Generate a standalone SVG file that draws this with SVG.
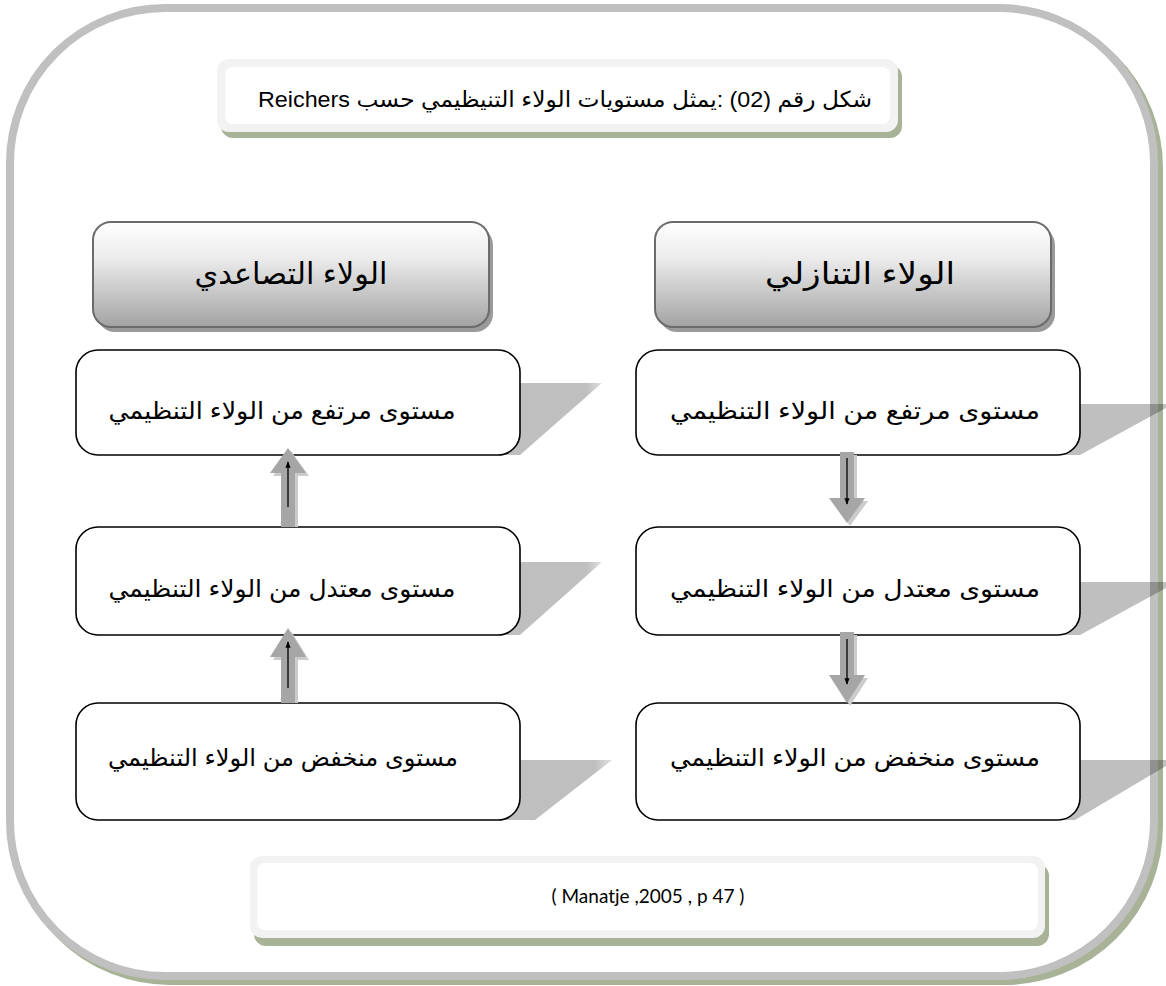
<svg xmlns="http://www.w3.org/2000/svg" width="1166" height="986" viewBox="0 0 1166 986">
<defs>
<linearGradient id="hdr" x1="0" y1="0" x2="0" y2="1">
<stop offset="0" stop-color="#ffffff"/>
<stop offset="0.35" stop-color="#ebebeb"/>
<stop offset="1" stop-color="#a3a3a3"/>
</linearGradient>
<linearGradient id="foldL" x1="0" y1="0" x2="1" y2="0">
<stop offset="0" stop-color="#000" stop-opacity="0.25"/>
<stop offset="0.85" stop-color="#000" stop-opacity="0.25"/>
<stop offset="1" stop-color="#000" stop-opacity="0.12"/>
</linearGradient>
<marker id="ah" viewBox="0 0 10 10" refX="9" refY="5" markerWidth="5" markerHeight="5" orient="auto">
<path d="M0,1 L10,5 L0,9 z" fill="#000"/>
</marker>
<style>
.ar{font-family:"Liberation Sans","DejaVu Sans",sans-serif;fill:#000;text-anchor:middle}
.lat{font-family:Lato,"Liberation Sans",sans-serif;fill:#000;text-anchor:middle}
.node{fill:#fff;stroke:#000;stroke-width:1.6}
.hdr{fill:url(#hdr);stroke:#6b6b6b;stroke-width:2}
.hsh{fill:#9a9a9a}
.fold{fill:url(#foldL)}
.foldr{fill:#000;fill-opacity:0.25}
.arw{fill:#a6a6a6}
.arwsh{fill:#cccccc}
.aline{stroke:#000;stroke-width:1.3;fill:none;marker-end:url(#ah)}
.cap-o{fill:#f2f2f2}
.cap-i{fill:#ffffff}
.cap-sh{fill:#a7b296}
</style>
</defs>
<rect width="1166" height="986" fill="#ffffff"/>
<g id="frame">
<rect x="15" y="13" width="1144" height="968" rx="155" fill="none" stroke="#a7b296" stroke-width="8"/>
<rect x="10" y="8" width="1144" height="968" rx="155" fill="#ffffff" stroke="#c0c0c0" stroke-width="8"/>
</g>
<g id="title">
<rect class="cap-sh" x="221" y="65" width="681" height="73" rx="12"/>
<rect class="cap-o" x="217" y="59" width="681" height="73" rx="12"/>
<rect class="cap-i" x="225" y="67" width="665" height="57" rx="8"/>
<text class="ar" x="565" y="107" font-size="22" textLength="614" lengthAdjust="spacingAndGlyphs" direction="rtl" unicode-bidi="embed">شكل رقم (02) :يمثل مستويات الولاء التنيظيمي حسب Reichers</text>
</g>
<g id="hdr-left">
<rect class="hsh" x="97" y="227" width="396" height="105" rx="18"/>
<rect class="hdr" x="93" y="222" width="396" height="105" rx="18"/>
<text class="ar" x="291" y="284" font-size="30" textLength="193" lengthAdjust="spacingAndGlyphs" direction="rtl">الولاء التصاعدي</text>
</g>
<g id="hdr-right">
<rect class="hsh" x="659" y="227" width="396" height="105" rx="18"/>
<rect class="hdr" x="655" y="222" width="396" height="105" rx="18"/>
<text class="ar" x="860" y="284" font-size="30" textLength="190" lengthAdjust="spacingAndGlyphs" direction="rtl">الولاء التنازلي</text>
</g>
<g id="folds">
<polygon class="fold" points="500,383 602,383 520,455 500,455"/>
<polygon class="fold" points="500,562 602,562 520,635 500,635"/>
<polygon class="fold" points="500,760 612,760 535,820 500,820"/>
<polygon class="foldr" points="1060,404 1166,404 1166,408 1080,455 1060,455"/>
<polygon class="foldr" points="1060,582 1166,582 1166,588 1080,635 1060,635"/>
<polygon class="foldr" points="1060,760 1166,760 1166,766 1075,820 1060,820"/>
</g>
<g id="n-left-high">
<rect class="node" x="76" y="350" width="444" height="105" rx="22"/>
<text class="ar" x="282" y="419" font-size="24" textLength="347" lengthAdjust="spacingAndGlyphs" direction="rtl">مستوى مرتفع من الولاء التنظيمي</text>
</g>
<g id="n-left-mid">
<rect class="node" x="76" y="527" width="444" height="108" rx="22"/>
<text class="ar" x="282" y="597" font-size="24" textLength="347" lengthAdjust="spacingAndGlyphs" direction="rtl">مستوى معتدل من الولاء التنظيمي</text>
</g>
<g id="n-left-low">
<rect class="node" x="76" y="703" width="444" height="117" rx="22"/>
<text class="ar" x="283" y="766" font-size="24" textLength="350" lengthAdjust="spacingAndGlyphs" direction="rtl">مستوى منخفض من الولاء التنظيمي</text>
</g>
<g id="n-right-high">
<rect class="node" x="636" y="350" width="444" height="105" rx="22"/>
<text class="ar" x="855" y="419" font-size="24" textLength="370" lengthAdjust="spacingAndGlyphs" direction="rtl">مستوى مرتفع من الولاء التنظيمي</text>
</g>
<g id="n-right-mid">
<rect class="node" x="636" y="527" width="444" height="108" rx="22"/>
<text class="ar" x="855" y="597" font-size="24" textLength="370" lengthAdjust="spacingAndGlyphs" direction="rtl">مستوى معتدل من الولاء التنظيمي</text>
</g>
<g id="n-right-low">
<rect class="node" x="636" y="703" width="444" height="117" rx="22"/>
<text class="ar" x="855" y="766" font-size="24" textLength="370" lengthAdjust="spacingAndGlyphs" direction="rtl">مستوى منخفض من الولاء التنظيمي</text>
</g>
<g id="connectors">
<polygon class="arwsh" points="291,451 309,476 298,476 298,527 284,527 284,476 273,476"/>
<polygon class="arw" points="288,448 306,473 295,473 295,527 281,527 281,473 270,473"/>
<line class="aline" x1="288" y1="507" x2="288" y2="462"/>
<polygon class="arwsh" points="291,631 309,660 298,660 298,703 284,703 284,660 273,660"/>
<polygon class="arw" points="288,628 306,657 295,657 295,703 281,703 281,657 270,657"/>
<line class="aline" x1="288" y1="688" x2="288" y2="642"/>
<polygon class="arwsh" points="843,455 857,455 857,501 868,501 850,526 832,501 843,501"/>
<polygon class="arw" points="840,452 854,452 854,498 865,498 847,523 829,498 840,498"/>
<line class="aline" x1="847" y1="458" x2="847" y2="504"/>
<polygon class="arwsh" points="843,635 857,635 857,678 868,678 850,706 832,678 843,678"/>
<polygon class="arw" points="840,632 854,632 854,675 865,675 847,703 829,675 840,675"/>
<line class="aline" x1="847" y1="639" x2="847" y2="684"/>
</g>
<g id="citation">
<rect class="cap-sh" x="254" y="864" width="795" height="82" rx="12"/>
<rect class="cap-o" x="250" y="856" width="795" height="82" rx="12"/>
<rect class="cap-i" x="257" y="863" width="781" height="67" rx="8"/>
<text class="lat" x="648" y="903" font-size="19">( Manatje ,2005 , p 47 )</text>
</g>
</svg>
